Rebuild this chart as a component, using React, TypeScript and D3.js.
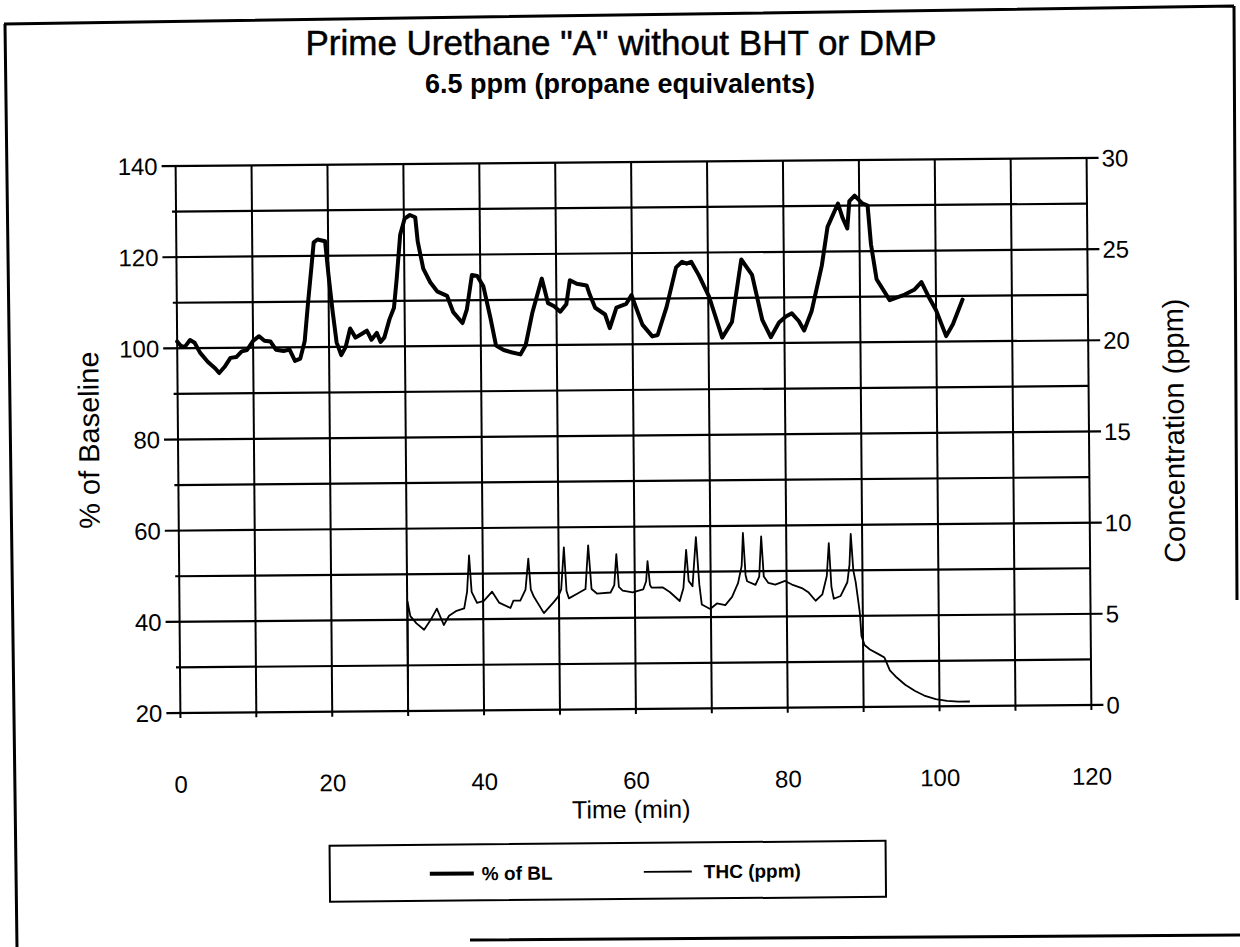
import React from "react";
import * as d3 from "d3";

const X_TICKS = [0, 20, 40, 60, 80, 100, 120];
const LEFT_TICKS = [20, 40, 60, 80, 100, 120, 140];
const RIGHT_TICKS = [0, 5, 10, 15, 20, 25, 30];

const BL_TIME = [
  0, 0.5, 1, 1.7, 2.3, 3, 4, 5, 5.5, 6.2, 7, 7.8, 8.5, 9.2, 10, 10.8, 11.5, 12.3, 13, 14,
  14.8, 15.5, 16.2, 16.8, 17.3, 17.8, 18.1, 18.6, 19.6, 20, 20.5, 21, 21.6, 22.2, 22.8, 23.5,
  24.3, 25, 25.6, 26.3, 26.8, 27.3, 28, 28.6, 29, 29.5, 30.1, 30.8, 31.5, 31.8, 32.5, 33.4,
  34.3, 35.6, 36.4, 37.6, 38.2, 38.9, 39.6, 40.4, 41.3, 42, 43, 44, 45.2, 45.9, 46.8, 48.1,
  48.9, 49.7, 50.5, 51.3, 51.8, 52.7, 54, 54.4, 55.1, 56.4, 57, 57.9, 59.2, 59.9, 60.3, 61.3,
  62.6, 63.3, 64.5, 65.8, 66.6, 67.2, 67.8, 68.8, 70.1, 71.8, 73.1, 74.4, 75.8, 77.1, 78.2,
  79.3, 80.2, 81, 81.9, 82.6, 83.6, 85, 85.8, 87.2, 87.8, 88.4, 88.7, 89.4, 90.4, 91.1, 91.5,
  92.2, 93.9, 95.9, 97.2, 98.1, 99, 100, 101.3, 102.2, 103.5,
];
const BL_VALUE = [
  101.5, 100.5, 100.3, 101.8, 101.2, 99, 97, 95.5, 94.5, 95.8, 97.8, 98, 99.2, 99.5, 101.5,
  102.5, 101.5, 101.3, 99.5, 99.2, 99.5, 97, 97.5, 101.3, 110, 118, 123, 123.6, 123.2, 116,
  108, 101, 98.2, 100, 104, 102, 102.8, 103.5, 101.5, 103, 101, 102, 106, 108.5, 115, 124.5,
  128, 128.8, 128.3, 123, 117, 114, 112, 111, 107.4, 105, 108, 115.5, 115.3, 113, 106, 100,
  99, 98.5, 98, 100, 107, 114.6, 109.2, 108.5, 107.3, 108.9, 114.2, 113.4, 113, 111, 108.1,
  106.6, 103.6, 108.1, 108.9, 110.8, 108.9, 104.3, 101.7, 102, 108.1, 116.8, 118, 117.6, 118,
  115, 110.4, 101.3, 104.7, 118.4, 115, 105.1, 101.3, 104.5, 105.8, 106.5, 104.8, 102.7,
  106.9, 116.9, 125.4, 130.5, 127.3, 125, 131, 132.2, 130.5, 130, 121.5, 113.8, 109.2, 110.4,
  111.5, 113.1, 110, 106.9, 101.2, 103.8, 109.2,
];

const THC_TIME = [
  30, 30.05, 30.4, 31.2, 32.2, 33.1, 33.9, 34.8, 35.5, 36.4, 37.5, 37.9, 38.2, 38.5, 39.2,
  40.1, 41.2, 42.1, 43.6, 44, 44.9, 45.6, 46, 46.3, 46.7, 48, 49.3, 49.9, 50.3, 50.7, 51,
  51.3, 52.4, 53.5, 53.9, 54.3, 55, 56.8, 57.3, 57.6, 57.9, 58.4, 59.7, 61.1, 61.5, 61.7, 62,
  62.2, 63.7, 64.6, 65.9, 66.4, 66.8, 67.1, 67.6, 68.1, 68.5, 68.8, 69.9, 70.8, 71.9, 72.8,
  73.6, 74.1, 74.3, 74.6, 74.8, 75.9, 76.4, 76.7, 77, 77.6, 78.5, 79.8, 80.7, 82, 82.9, 83.8,
  84.7, 85.3, 85.6, 85.9, 86.2, 87.1, 88, 88.3, 88.5, 88.8, 89.1, 89.6, 89.8, 90.2, 90.9, 92.2,
  92.8, 93.5, 94.4, 95.5, 96.8, 98, 99.5, 101, 102.5, 104,
];
const THC_VALUE = [
  0, 6.0, 5.2, 4.8, 4.45, 5.0, 5.6, 4.7, 5.2, 5.45, 5.6, 6.5, 8.5, 6.5, 5.9, 6.0, 6.5, 5.9,
  5.6, 6.0, 6.0, 6.6, 8.3, 6.6, 6.2, 5.3, 5.9, 6.2, 6.6, 8.9, 6.5, 6.1, 6.35, 6.6, 9.0, 6.6,
  6.35, 6.4, 6.8, 8.5, 6.7, 6.5, 6.4, 6.55, 7.0, 8.1, 6.8, 6.65, 6.65, 6.4, 5.9, 6.6, 8.7,
  7.0, 6.7, 9.4, 6.8, 5.7, 5.45, 5.75, 5.65, 6.1, 6.85, 7.8, 9.6, 7.3, 6.95, 6.75, 7.2, 9.4,
  7.2, 6.85, 6.75, 6.95, 6.75, 6.55, 6.3, 5.85, 6.2, 7.2, 9.0, 6.6, 5.95, 6.1, 6.85, 7.8, 9.5,
  7.5, 6.85, 5.2, 3.9, 3.4, 3.15, 2.85, 2.7, 2.0, 1.6, 1.2, 0.85, 0.6, 0.4, 0.3, 0.25, 0.25,
];

const FONT = "'Liberation Sans', Arial, Helvetica, sans-serif";

export default function App() {
  const W = 1240;
  const H = 947;
  const left = 178;
  const right = 1089;
  const top = 162;
  const bottom = 709;

  const x = d3.scaleLinear().domain([0, 120]).range([left, right]);
  const yL = d3.scaleLinear().domain([20, 140]).range([bottom, top]);
  const yR = d3.scaleLinear().domain([0, 30]).range([bottom, top]);

  const blData = BL_TIME.map((t, i) => [t, BL_VALUE[i]] as [number, number]);
  const thcData = THC_TIME.map((t, i) => [t, THC_VALUE[i]] as [number, number]);

  const blLine = d3
    .line<[number, number]>()
    .x((d) => x(d[0]))
    .y((d) => yL(d[1]));
  const thcLine = d3
    .line<[number, number]>()
    .x((d) => x(d[0]))
    .y((d) => yR(d[1]));

  const hGrid = d3.range(20, 141, 10);
  const vGrid = d3.range(0, 121, 10);

  return (
    <svg
      width={W}
      height={H}
      style={{ position: "absolute", left: 0, top: 0, background: "#fff" }}
      fontFamily={FONT}
    >
      <rect width={W} height={H} fill="#fff" />
      {/* scanned page frame */}
      <path
        d="M4,24 L1234,6 M5,24 L17,947 M1234,6 L1237,600 M470,940 L1240,935"
        stroke="#000"
        strokeWidth={3}
        fill="none"
      />

      {/* title (drawn upright) */}
      <text x={621} y={55} textAnchor="middle" fontSize={35} fill="#000" stroke="#000" strokeWidth={0.5}>
        Prime Urethane "A" without BHT or DMP
      </text>
      <text x={620} y={93} textAnchor="middle" fontSize={27} fontWeight="bold" fill="#000">
        6.5 ppm (propane equivalents)
      </text>

      <g transform="rotate(-0.5, 633, 437)">
        {/* horizontal gridlines */}
        {hGrid.map((v) => {
          const major = LEFT_TICKS.includes(v);
          return (
            <line
              key={"h" + v}
              x1={major ? left - 14 : left - 4}
              x2={major ? right + 12 : right}
              y1={yL(v)}
              y2={yL(v)}
              stroke="#000"
              strokeWidth={2.2}
            />
          );
        })}
        {/* vertical gridlines */}
        {vGrid.map((t) => (
          <line
            key={"v" + t}
            x1={x(t)}
            x2={x(t)}
            y1={top}
            y2={bottom + 5}
            stroke="#000"
            strokeWidth={2}
          />
        ))}

        {/* left tick labels */}
        {LEFT_TICKS.map((v) => (
          <text key={"l" + v} x={left - 18} y={yL(v)} dy="0.36em" textAnchor="end" fontSize={24} fill="#000">
            {v}
          </text>
        ))}
        {/* right tick labels */}
        {RIGHT_TICKS.map((v) => (
          <text key={"r" + v} x={right + 15} y={yR(v)} dy="0.36em" textAnchor="start" fontSize={24} fill="#000">
            {v}
          </text>
        ))}
        {/* x tick labels */}
        {X_TICKS.map((t) => (
          <text key={"x" + t} x={x(t)} y={bottom + 71} dy="0.36em" textAnchor="middle" fontSize={24} fill="#000">
            {t}
          </text>
        ))}

        {/* axis titles */}
        <text x={628} y={bottom + 109} textAnchor="middle" fontSize={25} fill="#000">
          Time (min)
        </text>
        <text
          transform={`translate(99, ${(top + bottom) / 2}) rotate(-90)`}
          textAnchor="middle"
          fontSize={29}
          fill="#000"
        >
          % of Baseline
        </text>
        <text
          transform={`translate(1184, ${(top + bottom) / 2}) rotate(-90)`}
          textAnchor="middle"
          fontSize={29}
          fill="#000"
        >
          Concentration (ppm)
        </text>

        {/* data lines */}
        <path d={thcLine(thcData) || ""} fill="none" stroke="#000" strokeWidth={1.8} strokeLinejoin="round" />
        <path
          d={blLine(blData) || ""}
          fill="none"
          stroke="#000"
          strokeWidth={4}
          strokeLinejoin="round"
          strokeLinecap="round"
        />

        {/* legend */}
        <rect x={326} y={843} width={556} height={56} fill="#fff" stroke="#000" strokeWidth={2} />
        <line x1={426} x2={470} y1={872} y2={872} stroke="#000" strokeWidth={4} />
        <text x={478} y={872} dy="0.36em" fontSize={19} fontWeight="bold" fill="#000">
          % of BL
        </text>
        <line x1={640} x2={688} y1={872} y2={872} stroke="#000" strokeWidth={1.8} />
        <text x={700} y={872} dy="0.36em" fontSize={19} fontWeight="bold" fill="#000">
          THC (ppm)
        </text>
      </g>
    </svg>
  );
}
